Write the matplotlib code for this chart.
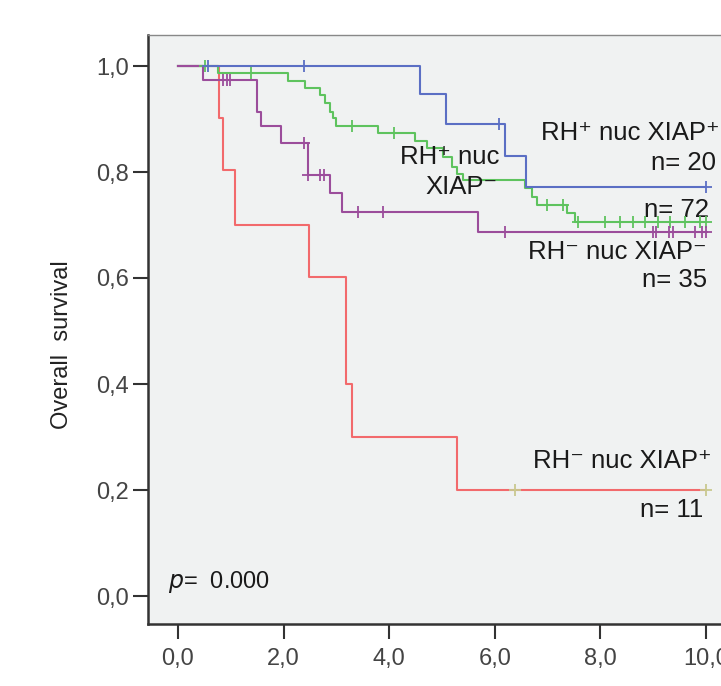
import numpy as np
import matplotlib
matplotlib.use('Agg')
import matplotlib.pyplot as plt

plt.rcParams['font.family'] = ['Liberation Sans', 'DejaVu Sans']

# ---- data (time in years, survival fraction) ----
blue_t = [0.0, 4.58, 5.08, 6.20, 6.60]
blue_s = [1.0, 0.947, 0.890, 0.830, 0.771]
blue_cens = [0.57, 2.39, 6.08, 10.0]

green_t = [0.0, 0.76, 2.09, 2.41, 2.69, 2.78, 2.88, 2.94, 3.00, 3.79, 4.49, 4.71,
           5.02, 5.18, 5.28, 5.40, 6.57, 6.70, 6.79, 7.36, 7.52]
green_s = [1.0, 0.987, 0.972, 0.958, 0.945, 0.931, 0.914, 0.901, 0.887, 0.873, 0.859, 0.845,
           0.829, 0.810, 0.797, 0.785, 0.769, 0.753, 0.738, 0.722, 0.706]
green_cens = [0.51, 1.38, 3.29, 4.09, 6.98, 7.30, 7.58, 8.09, 8.37, 8.62, 8.84, 9.10,
              9.32, 9.60, 9.89, 10.0]

purple_t = [0.0, 0.48, 1.49, 1.58, 1.96, 2.47, 2.87, 3.10, 5.69]
purple_s = [1.0, 0.974, 0.914, 0.886, 0.855, 0.794, 0.761, 0.725, 0.687]
purple_cens = [0.86, 0.92, 0.98, 2.39, 2.47, 2.69, 2.77, 3.40, 3.89, 6.19,
               9.00, 9.06, 9.29, 9.38, 9.79, 9.92, 10.0]

red_t = [0.0, 0.78, 0.86, 1.08, 2.49, 3.19, 3.29, 5.29]
red_s = [1.0, 0.901, 0.804, 0.700, 0.601, 0.400, 0.300, 0.200]
red_cens = [6.38, 10.0]

t_end = 10.0


def surv_at(times, surv, t):
    idx = np.searchsorted(times, t, side='right') - 1
    return surv[idx]


def draw_km(ax, times, surv, cens, color, cens_color=None):
    tt = list(times) + [t_end]
    ss = list(surv) + [surv[-1]]
    ax.step(tt, ss, where='post', color=color, lw=1.5, zorder=3)
    cy = [surv_at(times, surv, c) for c in cens]
    ax.plot(cens, cy, ls='none', marker='+', ms=8, mew=1.3,
            color=cens_color or color, zorder=4)


fig = plt.figure(figsize=(7.21, 6.86), dpi=100)
ax = fig.add_axes([148 / 721, 62 / 686, (745 - 148) / 721, (624 - 35) / 686])
ax.set_facecolor('#f0f2f2')

draw_km(ax, red_t, red_s, red_cens, '#f26a6c', '#c9c98f')
draw_km(ax, green_t, green_s, green_cens, '#5ec35e')
draw_km(ax, blue_t, blue_s, blue_cens, '#5b6fc4')
draw_km(ax, purple_t, purple_s, purple_cens, '#9b4d9b')

ax.set_xlim((148 - 178) / 52.8, (745 - 178) / 52.8)
ax.set_ylim(-(624 - 596) / 530, 1 + (66 - 35) / 530)

ax.set_xticks(np.arange(0, 11, 2))
ax.set_xticklabels([f"{v:.1f}".replace('.', ',') for v in np.arange(0, 11, 2)])
ax.set_yticks(np.arange(0, 1.01, 0.2))
ax.set_yticklabels([f"{v:.1f}".replace('.', ',') for v in np.arange(0, 1.01, 0.2)])
ax.tick_params(direction='out', length=11, width=1.5, labelsize=17,
               labelcolor='#444444', color='#333333', pad=3)
ax.tick_params(axis='x', pad=6)

for s in ['left', 'bottom']:
    ax.spines[s].set_color('#333333')
    ax.spines[s].set_linewidth(1.8)
ax.spines['top'].set_color('#888888')
ax.spines['top'].set_linewidth(1.0)
ax.spines['right'].set_visible(False)

ax.set_ylabel("Overall  survival", fontsize=17, color='#222222')
ax.yaxis.set_label_coords((73 - 148) / 597, (624 - 345) / 589)

tc = '#1a1a1a'
fs = 18.5
ax.text(10.25, 0.874, "RH⁺ nuc XIAP⁺", ha='right', va='center', fontsize=fs, color=tc)
ax.text(10.19, 0.817, "n= 20", ha='right', va='center', fontsize=fs, color=tc)
ax.text(6.08, 0.828, "RH⁺ nuc", ha='right', va='center', fontsize=fs, color=tc)
ax.text(6.06, 0.772, "XIAP⁻", ha='right', va='center', fontsize=fs, color=tc)
ax.text(10.06, 0.728, "n= 72", ha='right', va='center', fontsize=fs, color=tc)
ax.text(10.02, 0.649, "RH⁻ nuc XIAP⁻", ha='right', va='center', fontsize=fs, color=tc)
ax.text(10.02, 0.596, "n= 35", ha='right', va='center', fontsize=fs, color=tc)
ax.text(10.1, 0.255, "RH⁻ nuc XIAP⁺", ha='right', va='center', fontsize=fs, color=tc)
ax.text(9.94, 0.162, "n= 11", ha='right', va='center', fontsize=fs, color=tc)
ax.text(-0.19, 0.026, "$\\it{p}$=  0.000", ha='left', va='center', fontsize=17, color=tc)

fig.savefig('out.png', dpi=100)
